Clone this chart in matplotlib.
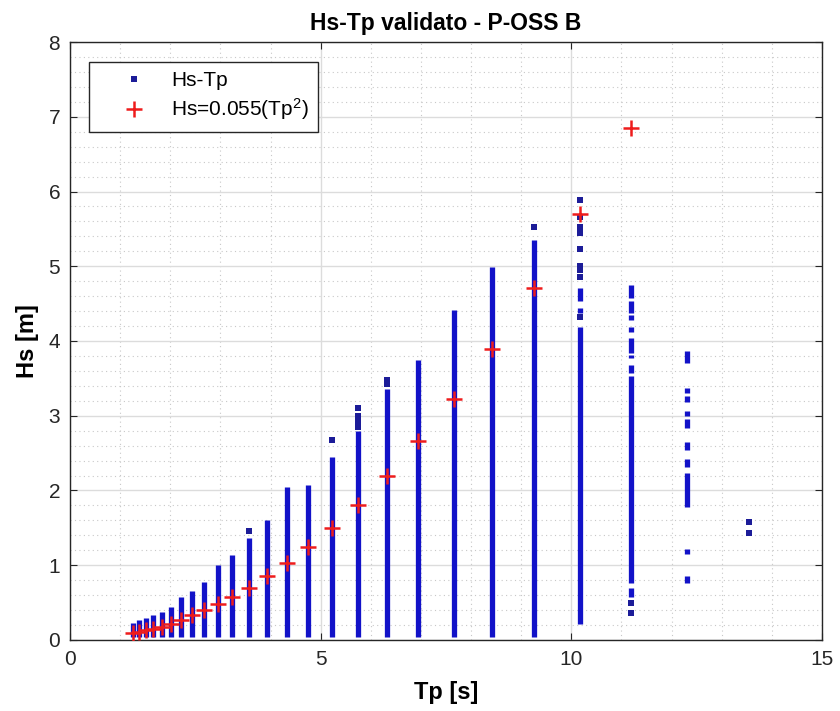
import matplotlib
matplotlib.use("Agg")
import matplotlib.pyplot as plt
from matplotlib.ticker import MultipleLocator
from matplotlib.lines import Line2D

plt.rcParams['font.family'] = ['Liberation Sans', 'DejaVu Sans']
plt.rcParams['mathtext.fontset'] = 'custom'
plt.rcParams['mathtext.rm'] = 'Liberation Sans'
plt.rcParams['mathtext.it'] = 'Liberation Sans:italic'
plt.rcParams['mathtext.default'] = 'regular'

# ---- data ----
tp_bins = [1.25, 1.38, 1.51, 1.66, 1.83, 2.01, 2.21, 2.44, 2.68, 2.95, 3.24, 3.57, 3.92,
           4.32, 4.75, 5.22, 5.74, 6.32, 6.95, 7.65, 8.41, 9.25, 10.18, 11.19, 12.31, 13.55]

# continuous runs of Hs-Tp points: (Tp, Hs low, Hs high)
run_tp = [1.25, 1.38, 1.51, 1.66, 1.83, 2.01, 2.21, 2.44, 2.68, 2.95, 3.24, 3.57, 3.92,
          4.32, 4.75, 5.22, 5.74, 6.32, 6.95, 7.65, 8.41, 9.25,
          10.18, 10.18, 10.18,
          11.19, 11.19, 11.19, 11.19, 11.19, 11.19, 11.19, 11.19, 11.19,
          12.31, 12.31, 12.31, 12.31, 12.31, 12.31, 12.31, 12.31, 12.31, 12.31]
run_lo = [0.04, 0.04, 0.04, 0.04, 0.04, 0.04, 0.04, 0.04, 0.04, 0.04, 0.04, 0.04, 0.04,
          0.04, 0.04, 0.04, 0.04, 0.04, 0.04, 0.04, 0.04, 0.04,
          0.21, 4.37, 4.53,
          0.76, 3.57, 3.77, 3.84, 4.12, 4.28, 4.38, 4.57, 0.58,
          3.70, 3.30, 3.18, 3.00, 2.84, 2.54, 2.32, 1.78, 1.15, 0.76]
run_hi = [0.23, 0.27, 0.30, 0.34, 0.38, 0.44, 0.58, 0.65, 0.77, 1.00, 1.14, 1.37, 1.61,
          2.04, 2.07, 2.45, 2.79, 3.36, 3.75, 4.42, 4.99, 5.35,
          4.19, 4.44, 4.71,
          3.53, 3.68, 3.81, 4.04, 4.19, 4.35, 4.54, 4.75, 0.70,
          3.86, 3.37, 3.26, 3.07, 2.95, 2.65, 2.42, 2.24, 1.22, 0.86]

# isolated Hs-Tp points
pt_tp = [3.57, 5.22, 5.74, 5.74, 5.74, 5.74, 5.74, 6.32, 6.32, 9.25,
         10.18, 10.18, 10.18, 10.18, 10.18, 10.18, 10.18, 10.18, 10.18,
         11.19, 11.19, 13.55, 13.55]
pt_hs = [1.46, 2.68, 2.85, 2.90, 2.95, 2.99, 3.10, 3.42, 3.48, 5.52,
         4.32, 4.86, 4.95, 5.00, 5.23, 5.45, 5.52, 5.66, 5.88,
         0.49, 0.36, 1.43, 1.58]

# Hs = 0.055 Tp^2 markers
fit_tp = tp_bins[:24]
fit_hs = [0.09, 0.10, 0.13, 0.15, 0.18, 0.22, 0.27, 0.33, 0.40, 0.48, 0.58, 0.70, 0.85,
          1.03, 1.24, 1.50, 1.81, 2.20, 2.66, 3.22, 3.89, 4.71, 5.70, 6.85]

# ---- figure ----
fig = plt.figure(figsize=(8.4, 7.11), dpi=100)
ax = fig.add_axes([0.0833, 0.0999, 0.8953, 0.8410])

blue_col = '#1212c8'
blue_pt = '#1c1c98'

ax.vlines(run_tp, run_lo, run_hi, colors=blue_col, linewidth=3.8,
          capstyle='butt', zorder=3)
ax.plot(pt_tp, pt_hs, linestyle='none', marker='s', markersize=3.8,
        color=blue_pt, markeredgewidth=0, zorder=3)
ax.plot(fit_tp, fit_hs, linestyle='none', marker='+', markersize=11,
        markeredgewidth=1.8, color='#ee1c1c', zorder=4)

ax.set_xlim(0, 15)
ax.set_ylim(0, 8)
ax.xaxis.set_major_locator(MultipleLocator(5))
ax.xaxis.set_minor_locator(MultipleLocator(1))
ax.yaxis.set_major_locator(MultipleLocator(1))
ax.yaxis.set_minor_locator(MultipleLocator(0.2))

ax.grid(which='major', color='#dcdcdc', linewidth=1.0, linestyle='-', zorder=0)
ax.grid(which='minor', color='#c8c8c8', linewidth=0.8, linestyle=(0, (1, 3)), zorder=0)
ax.set_axisbelow(True)

ax.tick_params(which='major', direction='in', length=5, width=0.8,
               top=True, right=True, labelsize=15, pad=7, colors='#262626')
ax.tick_params(which='minor', length=0, top=True, right=True)
for s in ax.spines.values():
    s.set_color('#262626')
    s.set_linewidth(1.0)

ax.set_xlabel('Tp [s]', fontsize=17, fontweight='bold', labelpad=9)
ax.set_ylabel('Hs [m]', fontsize=17, fontweight='bold', labelpad=7)
ax.set_title('Hs-Tp validato - P-OSS B', fontsize=16.5, fontweight='bold', pad=9)

handles = [Line2D([], [], linestyle='none', marker='s', markersize=4, color=blue_pt,
                  markeredgewidth=0),
           Line2D([], [], linestyle='none', marker='+', markersize=11, markeredgewidth=1.8,
                  color='#ee1c1c')]
leg = ax.legend(handles, ['Hs-Tp', 'Hs=0.055(Tp$^{2}$)'], loc='upper left',
                bbox_to_anchor=(0.025, 0.967), borderaxespad=0, fontsize=15,
                frameon=True, fancybox=False, edgecolor='#262626', framealpha=1,
                handlelength=3.4, handletextpad=0.1, borderpad=0.45, labelspacing=0.3)
leg.get_frame().set_linewidth(1.0)

fig.savefig('out.png', dpi=100)
